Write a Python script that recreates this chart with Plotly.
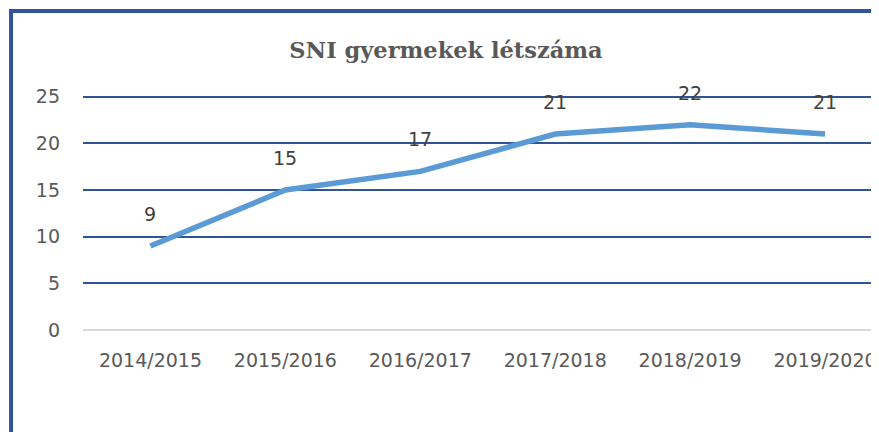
import plotly.graph_objects as go

categories = ["2014/2015", "2015/2016", "2016/2017", "2017/2018", "2018/2019", "2019/2020"]
values = [9, 15, 17, 21, 22, 21]
y_ticks = [0, 5, 10, 15, 20, 25]
title_text = "SNI gyermekek létszáma"

# the page body has an 8px margin; figure is placed at (8, 8)
OFF = 8
W, H = 879 - OFF, 432 - OFF
y_top_val = 25.4
ppu = (330 - 96.7) / 25.0
plot_left, plot_right = 82.5 - OFF, 879 - OFF
plot_bottom = 330 - OFF
plot_top = plot_bottom - y_top_val * ppu
band = 135.0

fig = go.Figure()
fig.add_trace(go.Scatter(
    x=list(range(len(categories))), y=values, mode="lines",
    line=dict(color="#5B9BD5", width=5.5), hoverinfo="skip", showlegend=False,
))

for i, v in enumerate(values):
    fig.add_annotation(x=i, y=v, text=str(v), showarrow=False, yshift=32,
                       font=dict(family="DejaVu Sans", size=19, color="#404040"))

def px_x(px):
    return (px - plot_left) / (plot_right - plot_left)

def px_y(py):
    return (plot_bottom - py) / (plot_bottom - plot_top)

# outer frame (blue border on top and left)
fig.add_shape(type="rect", xref="paper", yref="paper",
              x0=px_x(10.5 - OFF), x1=px_x(1000), y0=px_y(11 - OFF), y1=px_y(600),
              line=dict(color="#2F5597", width=4), fillcolor="rgba(0,0,0,0)", layer="above")

fig.update_layout(
    width=W, height=H,
    margin=dict(l=plot_left, r=W - plot_right, t=plot_top, b=H - plot_bottom, pad=0),
    paper_bgcolor="white", plot_bgcolor="white",
    title=dict(text=f"<b>{title_text}</b>", x=(446 - OFF) / W, xanchor="center", xref="container",
               y=1 - (50 - OFF) / H, yanchor="middle",
               font=dict(family="DejaVu Serif", size=22.5, color="#595959")),
    xaxis=dict(tickmode="array", tickvals=list(range(len(categories))), ticktext=categories,
               range=[-0.5, -0.5 + (plot_right - plot_left) / band], showgrid=False,
               zeroline=False, showline=False, ticks="", ticklabelstandoff=17,
               tickfont=dict(family="DejaVu Sans", size=19, color="#595959")),
    yaxis=dict(tickmode="array", tickvals=y_ticks, range=[0, y_top_val], showgrid=True,
               gridcolor="#2F5597", gridwidth=1.5, zeroline=True, zerolinecolor="#D9D9D9",
               zerolinewidth=1.5, showline=False, ticks="", ticklabelstandoff=22,
               tickfont=dict(family="DejaVu Sans", size=19, color="#595959")),
)

fig.write_html("out.html")
